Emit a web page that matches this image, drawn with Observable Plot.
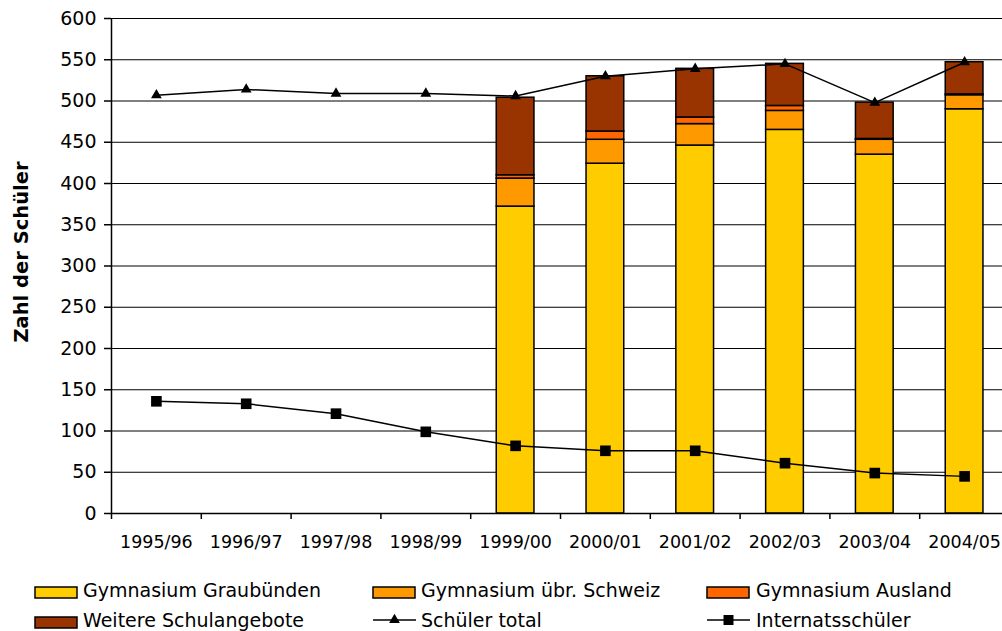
<!DOCTYPE html>
<html><head><meta charset="utf-8">
<script src="https://cdn.jsdelivr.net/npm/d3@7"></script>
<script src="https://cdn.jsdelivr.net/npm/@observablehq/plot@0.6"></script>
<style>
html,body{margin:0;padding:0;background:#fff;}
#wrap{position:relative;width:1002px;height:631px;overflow:hidden;}
#wrap svg.plot{position:absolute;left:0;top:0;}
#legend{position:absolute;left:0;top:560px;}
</style></head><body><div id="wrap"></div>
<script>
const years = ["1995/96","1996/97","1997/98","1998/99","1999/00","2000/01","2001/02","2002/03","2003/04","2004/05"];
const graubuenden = [null,null,null,null,372,424,446,465,435,490];
const schweiz     = [null,null,null,null,34,29,26,23,18,17];
const ausland     = [null,null,null,null,4,10,8,6,1,1];
const weitere     = [null,null,null,null,94,67,59,51,44,39];
const schuelerTotal = [507,514,509,509,506,530,539,545,498,547];
const internat      = [136,133,121,99,82,76,76,61,49,45];
const seriesNames  = ["Gymnasium Graubünden","Gymnasium übr. Schweiz","Gymnasium Ausland","Weitere Schulangebote"];
const seriesColors = ["#FFCC00","#FF9900","#FF6600","#993300"];
const lineNames = ["Schüler total","Internatsschüler"];
const yTicks = d3.range(0, 601, 50);
const yLabel = "Zahl der Schüler";

const seriesValues = [graubuenden, schweiz, ausland, weitere];
const stacked = [];
years.forEach((yr, i) => {
  let base = 0;
  seriesValues.forEach((vals, s) => {
    const v = vals[i];
    if (v == null) return;
    stacked.push({i, year: yr, series: seriesNames[s], y1: base, y2: base + v});
    base += v;
  });
});
const totalData = years.map((yr, i) => ({i, year: yr, value: schuelerTotal[i]}));
const internatData = years.map((yr, i) => ({i, year: yr, value: internat[i]}));
const cx = d => d.i + 0.5;

const plot = Plot.plot({
  width: 1002, height: 560,
  marginLeft: 111, marginRight: 0, marginTop: 18, marginBottom: 47,
  style: {fontFamily: "DejaVu Sans", fontSize: "18px", color: "#000", background: "#fff"},
  x: {type: "linear", domain: [0, 10], range: [111, 1009]},
  y: {domain: [0, 600], range: [513, 18]},
  color: {domain: seriesNames, range: seriesColors},
  marks: [
    Plot.ruleY(yTicks.filter(d => d > 0), {stroke: "#000", strokeWidth: 1}),
    Plot.rectY(stacked, {x1: d => d.i + 0.29, x2: d => d.i + 0.71, y1: "y1", y2: "y2", fill: "series", stroke: "#000", strokeWidth: 1.5}),
    Plot.line(totalData, {x: cx, y: "value", stroke: "#000", strokeWidth: 1.5}),
    Plot.dot(totalData, {x: cx, y: "value", symbol: "triangle", fill: "#000", stroke: "none", r: 4}),
    Plot.line(internatData, {x: cx, y: "value", stroke: "#000", strokeWidth: 1.5}),
    Plot.dot(internatData, {x: cx, y: "value", symbol: "square", fill: "#000", stroke: "none", r: 6}),
    Plot.axisY({ticks: yTicks, tickSize: 7, tickPadding: 8, fontSize: 19, label: null, strokeWidth: 1.5}),
    Plot.axisX({ticks: d3.range(0, 11), tickSize: 6, tickFormat: () => "", label: null, strokeWidth: 1.5}),
    Plot.axisX({ticks: years.map((_, i) => i + 0.5), tickSize: 0, tickPadding: 22, tickFormat: d => years[Math.round(d - 0.5)], fontSize: 17.5, label: null}),
    Plot.ruleX([0], {stroke: "#000", strokeWidth: 1.5}),
    Plot.ruleY([0], {stroke: "#000", strokeWidth: 1.5}),
    Plot.text([yLabel], {frameAnchor: "left", textAnchor: "middle", rotate: -90, dx: -90, dy: -14, fontWeight: "bold", fontSize: 19.5, fill: "#000", fontFamily: "DejaVu Sans"})
  ]
});
plot.classList.add("plot");
document.getElementById("wrap").appendChild(plot);

// Legend
const lg = d3.create("svg").attr("id", "legend").attr("width", 1002).attr("height", 71)
  .style("font-family", "DejaVu Sans").style("font-size", "19px");
const colX = [35, 373, 707];
const textX = [83, 421, 756];
const rowSwY = [27, 57];
const rowTxY = [37, 67];
const items = [
  {type: "rect", name: seriesNames[0], color: seriesColors[0], col: 0, row: 0},
  {type: "rect", name: seriesNames[1], color: seriesColors[1], col: 1, row: 0},
  {type: "rect", name: seriesNames[2], color: seriesColors[2], col: 2, row: 0},
  {type: "rect", name: seriesNames[3], color: seriesColors[3], col: 0, row: 1},
  {type: "tri", name: lineNames[0], col: 1, row: 1},
  {type: "sq", name: lineNames[1], col: 2, row: 1}
];
items.forEach(it => {
  const x = colX[it.col], y = rowSwY[it.row];
  if (it.type === "rect") {
    lg.append("rect").attr("x", x).attr("y", y).attr("width", 42).attr("height", 11)
      .attr("fill", it.color).attr("stroke", "#000").attr("stroke-width", 1.5);
  } else {
    const ly = y + 3;
    lg.append("line").attr("x1", x).attr("x2", x + 43).attr("y1", ly).attr("y2", ly).attr("stroke", "#000").attr("stroke-width", 1.5);
    const sym = it.type === "tri" ? d3.symbolTriangle : d3.symbolSquare;
    lg.append("path").attr("d", d3.symbol(sym, it.type === "tri" ? 50 : 100)()).attr("transform", `translate(${x + 21.5},${ly})`).attr("fill", "#000");
  }
  lg.append("text").attr("x", textX[it.col]).attr("y", rowTxY[it.row]).attr("fill", "#000").text(it.name);
});
document.getElementById("wrap").appendChild(lg.node());
</script>
</body></html>
